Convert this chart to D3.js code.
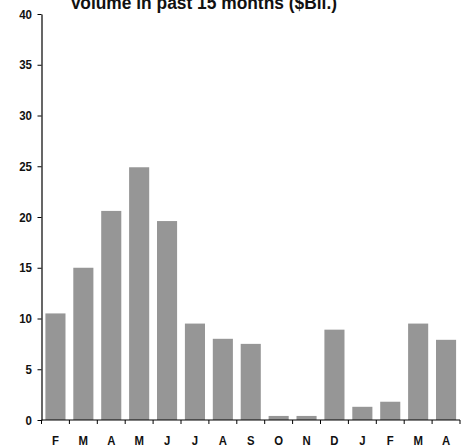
<!DOCTYPE html>
<html>
<head>
<meta charset="utf-8">
<script src="https://cdn.jsdelivr.net/npm/d3@7"></script>
<style>
  html, body { margin: 0; padding: 0; background: #fff; }
  svg { display: block; }
  text { font-family: "Liberation Sans Narrow", "Arial Narrow", "Liberation Sans", Arial, sans-serif; }
</style>
</head>
<body>
<svg id="chart" width="467" height="448"></svg>
<script>
const months = ["F","M","A","M","J","J","A","S","O","N","D","J","F","M","A"];
const volume = [10.5, 15.0, 20.6, 24.9, 19.6, 9.5, 8.0, 7.5, 0.4, 0.4, 8.9, 1.3, 1.8, 9.5, 7.9];
const yTicks = [0, 5, 10, 15, 20, 25, 30, 35, 40];
const title = "Volume in past 15 months ($Bil.)";

const svg = d3.select("#chart");
const mLeft = 41.5, mRight = 460, mTop = 14, mBottom = 420;

const x = d3.scaleBand().domain(d3.range(months.length)).range([mLeft, mRight]).paddingInner(0.28).paddingOuter(0.14);
const y = d3.scaleLinear().domain([0, 40]).range([mBottom, mTop]);

// bars
svg.append("g").selectAll("rect").data(volume).join("rect")
  .attr("x", (d, i) => x(i))
  .attr("y", d => y(d))
  .attr("width", x.bandwidth())
  .attr("height", d => y(0) - y(d))
  .attr("fill", "#969696");

// y axis
const yAxis = svg.append("g").attr("transform", `translate(${mLeft},0)`)
  .call(d3.axisLeft(y).tickValues(yTicks).tickSize(4).tickPadding(0).tickSizeOuter(0));
yAxis.select(".domain").attr("stroke", "#000").attr("stroke-width", 1.2);
yAxis.selectAll(".tick line").attr("stroke", "#000");
yAxis.selectAll(".tick text")
  .attr("x", null)
  .attr("font-size", 12.5).attr("font-weight", "bold").attr("fill", "#111")
  .attr("transform", "translate(-9.5,0) scale(0.92,1)")
  .style("font-family", '"Liberation Sans", Arial, sans-serif');

// x axis with ticks at band boundaries
const xg = svg.append("g").attr("transform", `translate(0,${mBottom})`);
xg.append("line").attr("x1", mLeft).attr("x2", mRight).attr("stroke", "#000").attr("stroke-width", 1.2);
const step = x.step();
const bounds = d3.range(months.length + 1).map(i => x(0) - x.paddingOuter() * step + i * step);
xg.selectAll("line.tk").data(bounds).join("line").attr("class", "tk")
  .attr("x1", d => d).attr("x2", d => d).attr("y1", 0).attr("y2", 4).attr("stroke", "#000");
xg.selectAll("text").data(months).join("text")
  .attr("transform", (d, i) => `translate(${x(i) + x.bandwidth() / 2},25.3) scale(0.86,1)`)
  .attr("text-anchor", "middle")
  .attr("font-size", 13.2)
  .attr("font-weight", "bold")
  .attr("fill", "#111")
  .text(d => d);

// title
svg.append("text")
  .attr("x", 70).attr("y", 9)
  .attr("font-size", 18)
  .attr("font-weight", "bold")
  .attr("textLength", 267)
  .attr("lengthAdjust", "spacingAndGlyphs")
  .attr("fill", "#111")
  .text(title);
</script>
</body>
</html>
